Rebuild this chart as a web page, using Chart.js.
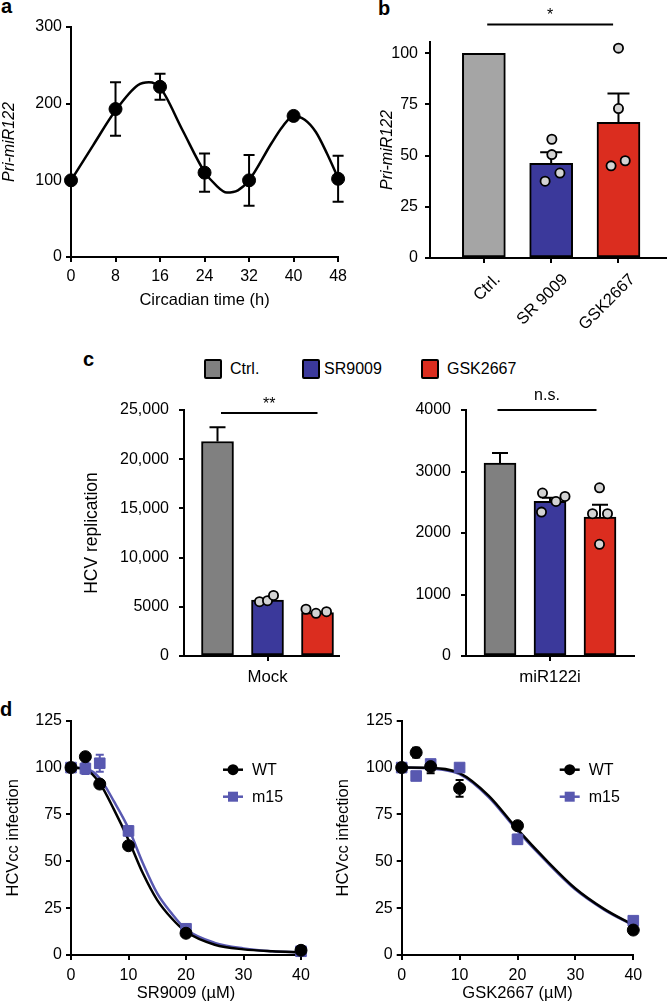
<!DOCTYPE html>
<html>
<head>
<meta charset="utf-8">
<script src="https://cdn.jsdelivr.net/npm/chart.js@4.4.1/dist/chart.umd.min.js"></script>
<style>
  body { margin: 0; width: 672px; height: 1008px; position: relative; overflow: hidden; background: #fff;
         font-family: "Liberation Sans", Arial, sans-serif; color: #000; }
  canvas { position: absolute; }
  .tag { position: absolute; font-weight: bold; font-size: 20px; line-height: 20px; }
  .leg { position: absolute; font-size: 16px; line-height: 20px; white-space: nowrap; }
  .leg span { position: absolute; top: 0; width: 14px; height: 16px; border: 2px solid #000; border-radius: 2px; }
</style>
</head>
<body>
<div class="tag" style="left:1px;top:-4px">a</div>
<div class="tag" style="left:378px;top:-2px">b</div>
<div class="tag" style="left:83px;top:349px">c</div>
<div class="tag" style="left:0px;top:699px">d</div>
<div id="cLegend"></div>

<canvas id="ca" width="352" height="312" style="left:0;top:0"></canvas>
<canvas id="cb" width="296" height="340" style="left:376px;top:0"></canvas>
<canvas id="cc1" width="270" height="318" style="left:82px;top:380px"></canvas>
<canvas id="cc2" width="256" height="318" style="left:400px;top:380px"></canvas>
<canvas id="cd1" width="320" height="308" style="left:0;top:700px"></canvas>
<canvas id="cd2" width="330" height="308" style="left:330px;top:700px"></canvas>

<script>
// ---------- panel a: circadian Pri-miR122 ----------
const circHours = [0, 8, 16, 24, 32, 40, 48];
const circMean = [100, 193, 222, 110, 100, 184, 102];
const circSem = [0, 35, 17, 25, 33, 2, 30];
const circFitHours = [0, 4, 8, 12, 14, 16, 20, 24, 26, 28, 30, 32, 36, 38, 40, 42, 44, 46, 48];
const circFit = [100, 146, 191, 224, 228, 221, 166, 111, 94, 84, 87, 100, 148, 170, 184, 179, 163, 135, 103];
const circXTicks = [0, 8, 16, 24, 32, 40, 48];
const circYTicks = [0, 100, 200, 300];

// ---------- panel b ----------
const bLabels = ['Ctrl.', 'SR 9009', 'GSK2667'];
const bMean = [100, 46.3, 66.3];
const bSem = [0, 5.3, 14];
const bSrPts = [58, 50.5, 41.5, 37.5];
const bGskPts = [102.5, 73, 45, 47.5];
const bSrJitter = [0.01, 0.01, 0.13, -0.09];
const bGskJitter = [0, 0, -0.11, 0.1];
const bYTicks = [0, 25, 50, 75, 100];

// ---------- panel c ----------
const cLabels = ['Ctrl.', 'SR9009', 'GSK2667'];
const cGroups = ['Mock', 'miR122i'];
const mockMean = [21800, 5690, 4400];
const mockSem = [1450, 0, 0];
const mockSrPts = [5520, 5620, 6150];
const mockGskPts = [4750, 4340, 4500];
const mockSrJitter = [-0.16, 0, 0.12];
const mockGskJitter = [-0.23, -0.03, 0.18];
const mirMean = [3135, 2513, 2260];
const mirSem = [165, 60, 200];
const mirSrPts = [2650, 2513, 2594, 2340];
const mirGskPts = [2735, 2314, 2314, 1816];
const mirSrJitter = [-0.15, 0.12, 0.3, -0.17];
const mirGskJitter = [-0.01, -0.15, 0.15, -0.01];
const mockYTicks = [0, 5000, 10000, 15000, 20000, 25000];
const mirYTicks = [0, 1000, 2000, 3000, 4000];

// ---------- panel d ----------
const dSeries = ['WT', 'm15'];
const doses = [0, 2.5, 5, 10, 20, 40];
const srWt = [100, 105.8, 91.2, 58.3, 11.6, 2.5];
const srWtSem = [0, 0, 0, 0, 0, 0];
const srM15 = [100, 99.5, 102.3, 66.2, 14, 2];
const srM15Sem = [0, 3, 4.5, 2.5, 1, 0];
const srFitX = [0, 2.5, 5, 7.5, 10, 12.5, 15, 17.5, 20, 25, 30, 35, 40];
const srWtFit = [100, 99, 91.6, 77.4, 61.4, 43.6, 29.3, 19.6, 12.4, 5.5, 3, 2, 1.5];
const srM15Fit = [100, 99.5, 94.3, 81.8, 67.6, 49, 32.9, 22.2, 13.7, 6.5, 3.5, 2, 1.5];
const gskWt = [100, 108, 100.5, 88.9, 69, 13.3];
const gskWtSem = [0, 2.6, 3.5, 4.5, 0, 0];
const gskM15 = [100, 95.5, 101.9, 100, 61.7, 18.3];
const gskM15Sem = [0, 2, 0, 0, 2.5, 0];
const gskFitX = [0, 5, 10, 15, 20, 25, 30, 35, 40];
const gskWtFit = [100, 99.8, 97, 85, 67, 50.5, 35.5, 24.5, 16];
const gskM15Fit = [100, 99.5, 96.5, 84.3, 66.2, 49.8, 34.9, 24.1, 15.8];
const dXTicks = [0, 10, 20, 30, 40];
const dYTicks = [0, 25, 50, 75, 100, 125];

const GRAY_B = '#a5a5a5', GRAY_C = '#808080', BLUE = '#3b399b', RED = '#db2d1f';
const PT_FILL = '#d3d3d3', M15 = '#5858b0';

Chart.defaults.font.family = '"Liberation Sans", Arial, sans-serif';
Chart.defaults.font.size = 16;
Chart.defaults.color = '#000';
Chart.defaults.animation = false;
Chart.defaults.plugins.legend.display = false;
Chart.defaults.plugins.tooltip.enabled = false;

// mean +/- SEM whiskers, read from dataset.sem
const errorBars = {
  id: 'errorBars',
  beforeDatasetsDraw(chart) {
    const ctx = chart.ctx;
    chart.data.datasets.forEach((ds, i) => {
      if (!ds.sem) return;
      const meta = chart.getDatasetMeta(i);
      const ys = chart.scales[meta.yAxisID];
      ctx.save();
      ctx.strokeStyle = ds.semColor || '#000';
      ctx.lineWidth = 2;
      meta.data.forEach((el, j) => {
        const e = ds.sem[j];
        if (!e) return;
        const v = ds.data[j].y;
        const top = ys.getPixelForValue(v + e);
        const bot = ds.semMode === 'up' ? ys.getPixelForValue(v) : ys.getPixelForValue(v - e);
        const x = el.x, c = ds.semCap || 6;
        ctx.beginPath();
        ctx.moveTo(x, bot); ctx.lineTo(x, top);
        ctx.moveTo(x - c, top); ctx.lineTo(x + c, top);
        if (ds.semMode !== 'up') { ctx.moveTo(x - c, bot); ctx.lineTo(x + c, bot); }
        ctx.stroke();
      });
      ctx.restore();
    });
  }
};

// significance bar with label
const sigBar = {
  id: 'sigBar',
  afterDatasetsDraw(chart, args, o) {
    if (!o || o.text == null) return;
    const ctx = chart.ctx, xs = chart.scales.x, ys = chart.scales.y;
    const x0 = xs.getPixelForValue(o.from), x1 = xs.getPixelForValue(o.to), y = ys.getPixelForValue(o.level);
    ctx.save();
    ctx.strokeStyle = '#000'; ctx.lineWidth = 2;
    ctx.beginPath(); ctx.moveTo(x0, y); ctx.lineTo(x1, y); ctx.stroke();
    ctx.fillStyle = '#000';
    ctx.font = '16px "Liberation Sans", Arial, sans-serif';
    ctx.textAlign = 'center'; ctx.textBaseline = 'alphabetic';
    ctx.fillText(o.text, (x0 + x1) / 2, y - o.gap);
    ctx.restore();
  }
};

// line + marker legend for panel d
const doseLegend = {
  id: 'doseLegend',
  afterDraw(chart, args, o) {
    if (!o || !o.items) return;
    const ctx = chart.ctx, a = chart.chartArea;
    o.items.forEach((it, i) => {
      const y = a.top + o.dy + i * o.step, x0 = a.left + o.dx, xm = x0 + o.len / 2;
      ctx.save();
      ctx.strokeStyle = it.color; ctx.fillStyle = it.color; ctx.lineWidth = 2.5;
      ctx.beginPath(); ctx.moveTo(x0, y); ctx.lineTo(x0 + o.len, y); ctx.stroke();
      if (it.shape === 'circle') { ctx.beginPath(); ctx.arc(xm, y, 5.5, 0, Math.PI * 2); ctx.fill(); }
      else ctx.fillRect(xm - 5, y - 5, 10, 10);
      ctx.fillStyle = '#000';
      ctx.font = '16px "Liberation Sans", Arial, sans-serif';
      ctx.textAlign = 'left'; ctx.textBaseline = 'middle';
      ctx.fillText(it.text, a.left + o.tx, y + 1);
      ctx.restore();
    });
  }
};

function axis(o) {
  const horiz = o.pos === 'bottom';
  return {
    type: 'linear', position: o.pos, min: o.min, max: o.max, offset: false,
    afterBuildTicks: s => { s.ticks = o.ticks.map(v => ({ value: v })); },
    afterFit: s => { if (horiz) s.height = o.size; else s.width = o.size; },
    ticks: Object.assign({ padding: o.pad, autoSkip: false, maxRotation: 0, minRotation: 0,
      callback: o.fmt || (v => String(v)), color: '#000', font: { size: o.tickSize || 16 } }, o.tickOpts || {}),
    grid: { offset: false, drawOnChartArea: false, drawTicks: true, tickLength: o.tl || 5, color: '#000', lineWidth: 2 },
    border: { display: true, color: '#000', width: 2 },
    title: o.title ? { display: true, text: o.title, color: '#000',
      font: { size: o.titleSize || 16.5, style: o.italic ? 'italic' : 'normal' }, padding: o.titlePad } : { display: false }
  };
}

function dots(vals, center, jitter) {
  return {
    type: 'scatter', data: vals.map((v, k) => ({ x: center + jitter[k], y: v })),
    pointRadius: 4.6, pointBackgroundColor: PT_FILL, pointBorderColor: '#000', pointBorderWidth: 1.8,
    clip: false, order: 0
  };
}

const commas = v => v >= 10000 ? String(v).replace(/\B(?=(\d{3})+(?!\d))/g, ',') : String(v);

// ---- a ----
new Chart(document.getElementById('ca'), {
  type: 'scatter',
  data: { datasets: [
    { data: circHours.map((h, i) => ({ x: h, y: circMean[i] })), pointRadius: 6.5,
      pointBackgroundColor: '#000', pointBorderColor: '#000', sem: circSem, semCap: 5.5, clip: false, order: 0 },
    { data: circFitHours.map((h, i) => ({ x: h, y: circFit[i] })), showLine: true, borderColor: '#000',
      borderWidth: 2.5, pointRadius: 0, cubicInterpolationMode: 'monotone', clip: false, order: 1 }
  ] },
  options: {
    responsive: false,
    layout: { padding: { left: 0, top: 27, right: 12, bottom: 0 } },
    scales: {
      x: axis({ pos: 'bottom', min: 0, max: 48, ticks: circXTicks, size: 55, pad: 5, title: 'Circadian time (h)', titlePad: { top: 0, bottom: 2 } }),
      y: axis({ pos: 'left', min: 0, max: 300, ticks: circYTicks, size: 71, pad: 4, title: 'Pri-miR122', italic: true, titleSize: 16, titlePad: { top: 0, bottom: 0 } })
    }
  },
  plugins: [errorBars]
});

// ---- b ----
new Chart(document.getElementById('cb'), {
  type: 'bar',
  data: { datasets: [
    { data: bLabels.map((_, i) => ({ x: i, y: bMean[i] })), backgroundColor: [GRAY_B, BLUE, RED],
      borderColor: '#000', borderWidth: 2, borderSkipped: false, barThickness: 43,
      sem: bSem, semMode: 'up', semCap: 11, order: 1 },
    dots(bSrPts, 1, bSrJitter),
    dots(bGskPts, 2, bGskJitter)
  ] },
  options: {
    responsive: false,
    layout: { padding: { left: 0, top: 42, right: 0, bottom: 0 } },
    plugins: { sigBar: { from: 0.05, to: 1.92, level: 114, text: '*', gap: 5 } },
    scales: {
      x: axis({ pos: 'bottom', min: -0.8, max: 2.7, ticks: [0, 1, 2], size: 82, pad: 7, tickSize: 16.5,
        fmt: v => bLabels[v], tickOpts: { minRotation: 45, maxRotation: 45, labelOffset: 14 } }),
      y: axis({ pos: 'left', min: 0, max: 105.5, ticks: bYTicks, size: 54, pad: 7, title: 'Pri-miR122', italic: true, titleSize: 16, titlePad: { top: 2, bottom: 0 } })
    }
  },
  plugins: [errorBars, sigBar]
});

// ---- c ----
function groupChart(id, g, mean, sem, srPts, srJit, gskPts, gskJit, yTicks, ymax, ysize, xmin, xmax, sig, title) {
  new Chart(document.getElementById(id), {
    type: 'bar',
    data: { datasets: [
      { data: cLabels.map((_, i) => ({ x: i, y: mean[i] })), backgroundColor: [GRAY_C, BLUE, RED],
        borderColor: '#000', borderWidth: 2, borderSkipped: false, barThickness: 32,
        sem: sem, semMode: 'up', semCap: 8, order: 1 },
      dots(srPts, 1, srJit),
      dots(gskPts, 2, gskJit)
    ] },
    options: {
      responsive: false,
      layout: { padding: { left: 0, top: 30, right: ysize.right, bottom: 0 } },
      plugins: { sigBar: sig },
      scales: {
        x: axis({ pos: 'bottom', min: xmin, max: xmax, ticks: [1], size: 42, pad: 6, tickSize: 16.8, fmt: () => cGroups[g] }),
        y: axis({ pos: 'left', min: 0, max: ymax, ticks: yTicks, size: ysize.w, pad: 10, fmt: commas,
          title: title, titleSize: 17.5, titlePad: { top: 0, bottom: 0 } })
      }
    },
    plugins: [errorBars, sigBar]
  });
}
groupChart('cc1', 0, mockMean, mockSem, mockSrPts, mockSrJitter, mockGskPts, mockGskJitter, mockYTicks, 25000,
  { w: 102, right: 13 }, -0.67, 2.43, { from: 0.07, to: 2.0, level: 24700, text: '**', gap: 4 }, 'HCV replication');
groupChart('cc2', 1, mirMean, mirSem, mirSrPts, mirSrJitter, mirGskPts, mirGskJitter, mirYTicks, 4000,
  { w: 66, right: 22 }, -0.68, 2.68, { from: -0.05, to: 1.93, level: 4000, text: 'n.s.', gap: 10 }, null);

// legend for c
const cColors = [GRAY_C, BLUE, RED];
const cLegendX = [204, 302, 421];
cLabels.forEach((t, i) => {
  const d = document.createElement('div');
  d.className = 'leg';
  d.style.left = cLegendX[i] + 'px';
  d.style.top = '359px';
  d.innerHTML = '<span style="left:0;background:' + cColors[i] + '"></span><b style="font-weight:normal;margin-left:' + (i === 1 ? 22 : 26) + 'px">' + t + '</b>';
  document.getElementById('cLegend').appendChild(d);
});

// ---- d ----
function doseChart(id, wt, wtSem, m15, m15Sem, fitX, wtFit, m15Fit, title, ysize, right, legendDx) {
  new Chart(document.getElementById(id), {
    type: 'scatter',
    data: { datasets: [
      { data: doses.map((x, i) => ({ x: x, y: wt[i] })), pointRadius: 6, pointBackgroundColor: '#000',
        pointBorderColor: '#000', sem: wtSem, semCap: 4, clip: false, order: 0 },
      { data: doses.map((x, i) => ({ x: x, y: m15[i] })), pointStyle: 'rect', pointRadius: 7.5,
        pointBackgroundColor: M15, pointBorderColor: M15, sem: m15Sem, semColor: M15, semCap: 4, clip: false, order: 0 },
      { data: fitX.map((x, i) => ({ x: x, y: wtFit[i] })), showLine: true, borderColor: '#000', borderWidth: 2.5,
        pointRadius: 0, cubicInterpolationMode: 'monotone', clip: false, order: 1 },
      { data: fitX.map((x, i) => ({ x: x, y: m15Fit[i] })), showLine: true, borderColor: M15, borderWidth: 2.5,
        pointRadius: 0, cubicInterpolationMode: 'monotone', clip: false, order: 2 }
    ] },
    options: {
      responsive: false,
      layout: { padding: { left: 0, top: 20.7, right: right, bottom: 0 } },
      plugins: { doseLegend: { dx: legendDx, len: 20, tx: legendDx + 29, dy: 49, step: 27,
        items: [{ text: dSeries[0], color: '#000', shape: 'circle' }, { text: dSeries[1], color: M15, shape: 'rect' }] } },
      scales: {
        x: axis({ pos: 'bottom', min: 0, max: 40, ticks: dXTicks, size: 53, pad: 6, title: title, titlePad: { top: 0, bottom: 5 } }),
        y: axis({ pos: 'left', min: 0, max: 125, ticks: dYTicks, size: ysize, pad: 4, title: 'HCVcc infection', titlePad: { top: 3.5, bottom: 0 } })
      }
    },
    plugins: [errorBars, doseLegend]
  });
}
doseChart('cd1', srWt, srWtSem, srM15, srM15Sem, srFitX, srWtFit, srM15Fit, 'SR9009 (µM)', 71, 19, 152);
doseChart('cd2', gskWt, gskWtSem, gskM15, gskM15Sem, gskFitX, gskWtFit, gskM15Fit, 'GSK2667 (µM)', 71.7, 26.7, 158);
</script>
</body>
</html>
